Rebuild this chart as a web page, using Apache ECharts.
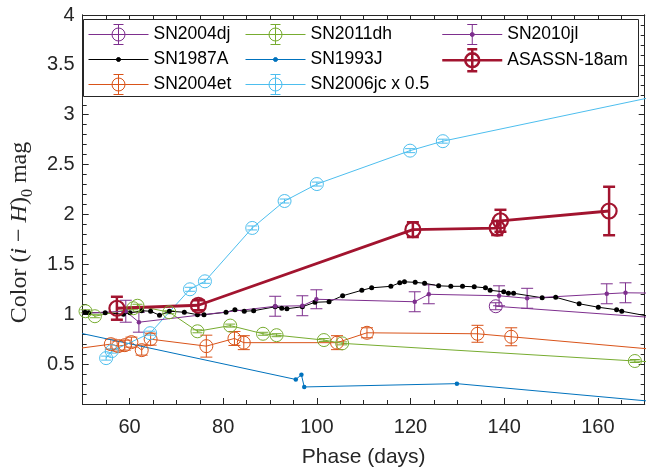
<!DOCTYPE html>
<html>
<head>
<meta charset="utf-8">
<script src="https://cdn.jsdelivr.net/npm/echarts@6/dist/echarts.min.js"></script>
<style>
  html, body { margin: 0; padding: 0; background: #fff; }
  #chart { width: 646px; height: 473px; }
</style>
</head>
<body>
<div id="chart"></div>
<script>
// ---- axis labels ----
const phaseTicks = [60, 80, 100, 120, 140, 160];
const colorTicks = [0.5, 1, 1.5, 2, 2.5, 3, 3.5, 4];

// ---- SN2004dj ----
const dj04Phase = [138.2, 190];
const dj04Color = [1.08, 0.905];
const dj04Err   = [0.035, null];

// ---- SN1987A ----
const a87Phase = [50.5, 51.3, 54.8, 58.7, 60.1, 62.6, 64.5, 66.4, 68.5, 71.7, 74.5, 75.9, 80.6, 82.5, 84.5, 86.5,
                  91.1, 92.5, 93.6, 96.9, 99.6, 102.6, 105.5, 109.6, 111.7, 115.8, 117.7, 118.7, 121.0, 123.0, 126.0,
                  128.6, 131.1, 133.6, 136.0, 137.0, 139.9, 140.9, 142.0, 148.1, 151.0, 156.0, 160.1, 164.0, 165.1, 172];
const a87Color = [1.02, 1.015, 1.015, 1.0, 1.015, 1.035, 1.03, 0.99, 1.03, 1.02, 0.995, 0.995, 1.02, 1.045, 1.03, 1.035,
                  1.075, 1.06, 1.055, 1.075, 1.12, 1.125, 1.185, 1.24, 1.265, 1.28, 1.315, 1.325, 1.32, 1.31, 1.285,
                  1.28, 1.28, 1.275, 1.265, 1.24, 1.225, 1.21, 1.21, 1.165, 1.17, 1.105, 1.07, 1.045, 1.03, 0.97];

// ---- SN2004et ----
const et04Phase = [40, 56.0, 57.6, 59.0, 60.4, 62.6, 64.5, 76.4, 82.4, 84.4, 104.3, 110.7, 134.3, 141.5, 185];
const et04Color = [0.60, 0.70, 0.68, 0.69, 0.72, 0.64, 0.75, 0.68, 0.757, 0.715, 0.715, 0.814, 0.804, 0.774, 0.594];
const et04Err   = [null, 0.05, 0.05, 0.05, 0.05, 0.05, 0.06, 0.11, 0.07, 0.07, 0.07, 0.05, 0.085, 0.09, null];

// ---- SN2011dh ----
const dh11Phase = [50.6, 52.6, 60.8, 61.7, 68.5, 74.5, 81.5, 88.5, 91.4, 101.5, 105.4, 167.9, 185];
const dh11Color = [1.03, 0.98, 1.06, 1.085, 1.02, 0.829, 0.886, 0.804, 0.79, 0.741, 0.708, 0.531, 0.49];
const dh11Err   = [0.015, 0.015, 0.015, 0.015, 0.015, 0.015, 0.015, 0.015, 0.015, 0.015, 0.015, 0.015, null];

// ---- SN1993J ----
const j93Phase = [40, 95.5, 96.7, 97.3, 129.9, 180];
const j93Color = [0.906, 0.346, 0.393, 0.271, 0.304, 0.09];

// ---- SN2006jc (scaled by 0.5) ----
const jc06Phase = [55.0, 56.2, 64.4, 72.9, 76.1, 86.2, 93.1, 100.0, 119.9, 126.9, 175];
const jc06Color = [0.56, 0.63, 0.81, 1.25, 1.33, 1.865, 2.135, 2.305, 2.64, 2.735, 3.21];
const jc06Err   = [0.02, 0.02, 0.02, 0.02, 0.02, 0.02, 0.02, 0.02, 0.02, 0.02, null];

// ---- SN2010jl ----
const jl10Phase = [40, 59.2, 62.0, 91.1, 96.9, 99.9, 120.9, 123.9, 138.9, 144.9, 161.9, 165.9, 175];
const jl10Color = [0.99, 1.03, 0.92, 1.08, 1.085, 1.15, 1.125, 1.2, 1.185, 1.16, 1.205, 1.215, 1.21];
const jl10Err   = [null, 0.11, 0.1, 0.1, 0.1, 0.095, 0.1, 0.095, 0.1, 0.1, 0.1, 0.1, null];

// ---- ASASSN-18am ----
const asnPhase = [57.3, 74.7, 120.5, 138.5, 139.2, 162.4];
const asnColor = [1.06, 1.09, 1.848, 1.864, 1.937, 2.035];
const asnErr   = [0.115, 0.05, 0.074, 0.07, 0.11, 0.243];

// ---- styling ----
const AX = '#262626';
const SANS = '"Liberation Sans", Arial, Helvetica, sans-serif';
const SERIF = '"Liberation Serif", "Times New Roman", serif';
const C = {
  blue: '#0072BD', orange: '#D95319', purple: '#7E2F8E', green: '#77AC30',
  cyan: '#4DBEEE', red: '#A2142F', black: '#000000'
};
const X_MIN = 50, X_MAX = 170, Y_MIN = 0.1, Y_MAX = 4;

function steps(a, b, s) {
  const out = [];
  for (let v = a; v <= b + 1e-9; v += s) out.push(Math.round(v * 1000) / 1000);
  return out;
}
const xMinor = steps(X_MIN, X_MAX, 5);
const yMinor = steps(Y_MIN, Y_MAX, 0.1);

function xAxis(position, ticks, len, withLabels) {
  const ax = {
    type: 'value', min: X_MIN, max: X_MAX, position: position,
    axisLine: { show: true, onZero: false, lineStyle: { color: AX, width: 1 } },
    axisTick: { show: true, inside: true, length: len, customValues: ticks, lineStyle: { color: AX, width: 1 } },
    axisLabel: { show: false },
    splitLine: { show: false }
  };
  if (withLabels) {
    ax.axisLabel = { show: true, customValues: phaseTicks, margin: 13, fontSize: 20, color: AX, fontFamily: SANS };
    ax.name = 'Phase (days)';
    ax.nameLocation = 'middle';
    ax.nameGap = 43;
    ax.nameTextStyle = { fontSize: 21, color: AX, fontFamily: SANS };
  }
  return ax;
}
function yAxis(position, ticks, len, withLabels) {
  const ax = {
    type: 'value', min: Y_MIN, max: Y_MAX, position: position,
    axisLine: { show: true, onZero: false, lineStyle: { color: AX, width: 1 } },
    axisTick: { show: true, inside: true, length: len, customValues: ticks, lineStyle: { color: AX, width: 1 } },
    axisLabel: { show: false },
    splitLine: { show: false }
  };
  if (withLabels) {
    ax.axisLabel = { show: true, customValues: colorTicks, margin: 8, fontSize: 20, color: AX, fontFamily: SANS };
    ax.name = '{r|Color (}{i|i}{r| − }{i|H}{r|)}{s|0}{r| mag}';
    ax.nameLocation = 'middle';
    ax.nameGap = 44;
    ax.nameTextStyle = {
      color: AX, fontFamily: SERIF, fontSize: 24,
      padding: [0, 46, 0, 0],
      rich: {
        r: { fontFamily: SERIF, fontSize: 24, color: AX },
        i: { fontFamily: SERIF, fontSize: 24, fontStyle: 'italic', color: AX },
        s: { fontFamily: SERIF, fontSize: 16, color: AX, lineHeight: 32, verticalAlign: 'bottom' }
      }
    };
  }
  return ax;
}

function zip(p, c) { return p.map((x, i) => [x, c[i]]); }

function lineSeries(name, p, c, color, opts) {
  return Object.assign({
    type: 'line', name: name, data: zip(p, c),
    xAxisIndex: 0, yAxisIndex: 0,
    lineStyle: { color: color, width: 1 },
    symbol: 'circle', symbolSize: 13,
    itemStyle: { color: 'rgba(0,0,0,0)', borderColor: color, borderWidth: 1 },
    clip: true, silent: true, animation: false
  }, opts || {});
}

function errSeries(name, p, c, e, color, capHalf, width) {
  const data = [];
  p.forEach((x, i) => {
    if (e[i] != null && x >= X_MIN && x <= X_MAX) data.push([x, c[i], e[i]]);
  });
  return {
    type: 'custom', name: name, data: data, silent: true, animation: false,
    xAxisIndex: 0, yAxisIndex: 0,
    encode: { x: 0, y: 1 },
    renderItem: function (params, api) {
      const x = api.value(0), y = api.value(1), er = api.value(2);
      const t = api.coord([x, y + er]);
      const b = api.coord([x, y - er]);
      const st = { stroke: color, lineWidth: width, fill: null };
      return {
        type: 'group',
        children: [
          { type: 'line', shape: { x1: t[0], y1: t[1], x2: b[0], y2: b[1] }, style: st },
          { type: 'line', shape: { x1: t[0] - capHalf, y1: t[1], x2: t[0] + capHalf, y2: t[1] }, style: st },
          { type: 'line', shape: { x1: b[0] - capHalf, y1: b[1], x2: b[0] + capHalf, y2: b[1] }, style: st }
        ]
      };
    }
  };
}

// legend glyphs: line with marker (and error bar where the series has one)
const ICON_CIRCLE_ERR = 'path://M0,0M60,24M0,12L60,12M30,2L30,22M25,2L35,2M25,22L35,22M36.5,12A6.5,6.5,0,1,1,23.5,12A6.5,6.5,0,1,1,36.5,12';
const ICON_DOT = 'path://M0,0M60,24M0,12L60,12M32,12A2,2,0,1,1,28,12A2,2,0,1,1,32,12';
const ICON_DOT_ERR = 'path://M0,0M60,24M0,12L60,12M30,2L30,22M25,2L35,2M25,22L35,22M32,12A2,2,0,1,1,28,12A2,2,0,1,1,32,12';
const ICON_BIG = 'path://M0,0M60,24M0,12L60,12M30,1L30,23M25,1L35,1M25,23L35,23M37,12A7,7,0,1,1,23,12A7,7,0,1,1,37,12';

function legendItem(name, icon, color, width, filled) {
  return {
    name: name, icon: icon,
    itemStyle: { color: filled ? color : 'rgba(0,0,0,0)', borderColor: color, borderWidth: width, opacity: 1 }
  };
}
function legendCol(left, items) {
  return {
    left: left, top: 22, orient: 'vertical', itemWidth: 60, itemHeight: 24, itemGap: 0,
    selectedMode: false, z: 10, padding: 0,
    textStyle: { fontSize: 17.5, color: '#000', fontFamily: SANS },
    data: items
  };
}

const option = {
  backgroundColor: '#ffffff',
  animation: false,
  grid: { left: 77.3, right: 1.3, top: 15, bottom: 62.3, containLabel: false },
  xAxis: [
    xAxis('bottom', phaseTicks.concat([X_MIN, X_MAX]), 6, true),
    xAxis('bottom', xMinor, 4, false),
    xAxis('top', phaseTicks, 6, false),
    xAxis('top', xMinor, 4, false)
  ],
  yAxis: [
    yAxis('left', colorTicks, 6, true),
    yAxis('left', yMinor, 4, false),
    yAxis('right', colorTicks, 6, false),
    yAxis('right', yMinor, 4, false)
  ],
  legend: [
    legendCol(88, [
      legendItem('SN2004dj', ICON_CIRCLE_ERR, C.purple, 1, false),
      legendItem('SN1987A', ICON_DOT, C.black, 1, true),
      legendItem('SN2004et', ICON_CIRCLE_ERR, C.orange, 1, false)
    ]),
    legendCol(245, [
      legendItem('SN2011dh', ICON_CIRCLE_ERR, C.green, 1, false),
      legendItem('SN1993J', ICON_DOT, C.blue, 1, true),
      legendItem('SN2006jc x 0.5', ICON_CIRCLE_ERR, C.cyan, 1, false)
    ]),
    legendCol(441, [
      legendItem('SN2010jl', ICON_DOT_ERR, C.purple, 1, true),
      legendItem('ASASSN-18am', ICON_BIG, C.red, 2.5, false)
    ])
  ],
  graphic: [{
    type: 'rect', z: 5, silent: true,
    shape: { x: 83.5, y: 19.5, width: 555, height: 77 },
    style: { fill: '#ffffff', stroke: AX, lineWidth: 1 }
  }],
  series: [
    lineSeries('SN2004dj', dj04Phase, dj04Color, C.purple),
    errSeries('SN2004dj', dj04Phase, dj04Color, dj04Err, C.purple, 6, 1),

    lineSeries('SN1987A', a87Phase, a87Color, C.black,
      { symbolSize: 5, itemStyle: { color: C.black, borderWidth: 0 } }),

    lineSeries('SN2004et', et04Phase, et04Color, C.orange),
    errSeries('SN2004et', et04Phase, et04Color, et04Err, C.orange, 6, 1),

    lineSeries('SN2011dh', dh11Phase, dh11Color, C.green),
    errSeries('SN2011dh', dh11Phase, dh11Color, dh11Err, C.green, 5, 1),

    lineSeries('SN1993J', j93Phase, j93Color, C.blue,
      { symbolSize: 4.5, itemStyle: { color: C.blue, borderWidth: 0 } }),

    lineSeries('SN2006jc x 0.5', jc06Phase, jc06Color, C.cyan),
    errSeries('SN2006jc x 0.5', jc06Phase, jc06Color, jc06Err, C.cyan, 5, 1),

    lineSeries('SN2010jl', jl10Phase, jl10Color, C.purple,
      { symbolSize: 4.5, itemStyle: { color: C.purple, borderWidth: 0 } }),
    errSeries('SN2010jl', jl10Phase, jl10Color, jl10Err, C.purple, 6, 1),

    lineSeries('ASASSN-18am', asnPhase, asnColor, C.red,
      { symbolSize: 15, lineStyle: { color: C.red, width: 2.8 },
        itemStyle: { color: 'rgba(0,0,0,0)', borderColor: C.red, borderWidth: 2.2 } }),
    errSeries('ASASSN-18am', asnPhase, asnColor, asnErr, C.red, 6, 2.5)
  ]
};

const chart = echarts.init(document.getElementById('chart'), null, { renderer: 'canvas' });
chart.setOption(option);
</script>
</body>
</html>
